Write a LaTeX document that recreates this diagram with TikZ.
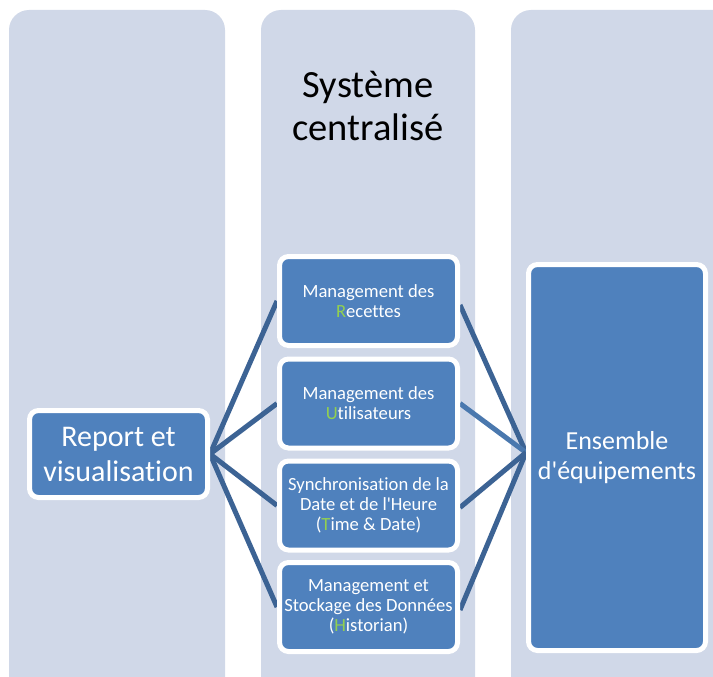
\documentclass[tikz,border=0pt]{standalone}
\usepackage{fontspec}
\setmainfont{Carlito}[Ligatures={TeXOff,CommonOff}]
\definecolor{colbg}{HTML}{D0D8E8}
\definecolor{boxblue}{HTML}{4F81BD}
\definecolor{linkblue}{RGB}{60,99,148}
\definecolor{linklight}{RGB}{74,120,174}
\definecolor{keygreen}{HTML}{92D050}
\pgfdeclarelayer{back}
\pgfdeclarelayer{mid}
\pgfsetlayers{back,mid,main}
\tikzset{
  column/.style={fill=colbg, rounded corners=20pt},
  box/.style={draw=white, line width=5pt, fill=boxblue, rounded corners=9pt,
    text=white, align=center, inner sep=0pt},
  smallbox/.style={box, minimum width=178pt, minimum height=89pt,
    font=\fontsize{18.6}{20}\selectfont},
  link/.style={draw=linkblue, line width=5pt},
  key/.style={text=keygreen}
}
\begin{document}
\begin{tikzpicture}[x=1pt,y=1pt]
\useasboundingbox (0,0) rectangle (713,-677);
\clip (0,0) rectangle (713,-677);
\begin{pgfonlayer}{back}
  \fill[white] (0,0) rectangle (713,-677);
  \path[column] (9,-10) rectangle (225,-700);
  \path[column] (261,-10) rectangle (475,-700);
  \path[column] (511,-10) rectangle (740,-700);
\end{pgfonlayer}

\node[font=\fontsize{38.5}{43}\selectfont, align=center, text=black] (title) at (368,-106) {Système\\centralisé};

\node[box, minimum width=178pt, minimum height=87pt, font=\fontsize{30}{35}\selectfont] (rep) at (118.5,-454) {Report et\\visualisation};

\node[smallbox] (rec) at (368.5,-301) {Management des\\{\color{keygreen}R}ecettes};
\node[smallbox] (uti) at (368.5,-403.5) {Management des\\{\color{keygreen}U}tilisateurs};
\node[smallbox] (syn) at (368.5,-505.5) {Synchronisation de la\\Date et de l'Heure\\({\color{keygreen}T}ime \& Date)};
\node[smallbox] (his) at (368.5,-607) {Management et\\Stockage des Données\\({\color{keygreen}H}istorian)};

\node[box, minimum width=177pt, minimum height=386pt, font=\fontsize{26}{30}\selectfont] (ens) at (617,-457.5) {Ensemble\\d'équipements};

\coordinate (hubR) at ([yshift=5pt]ens.west);

\begin{pgfonlayer}{mid}
  \draw[link] (rep.east) -- (rec.west);
  \draw[link] (rep.east) -- (uti.west);
  \draw[link] (rep.east) -- (syn.west);
  \draw[link] (rep.east) -- (his.west);
  \draw[link] ([yshift=-4pt]rec.east) -- (hubR);
  \draw[link, draw=linklight] (uti.east) -- (hubR);
  \draw[link] ([yshift=-2pt]syn.east) -- (hubR);
  \draw[link] ([yshift=-3pt]his.east) -- (hubR);
\end{pgfonlayer}
\end{tikzpicture}
\end{document}
